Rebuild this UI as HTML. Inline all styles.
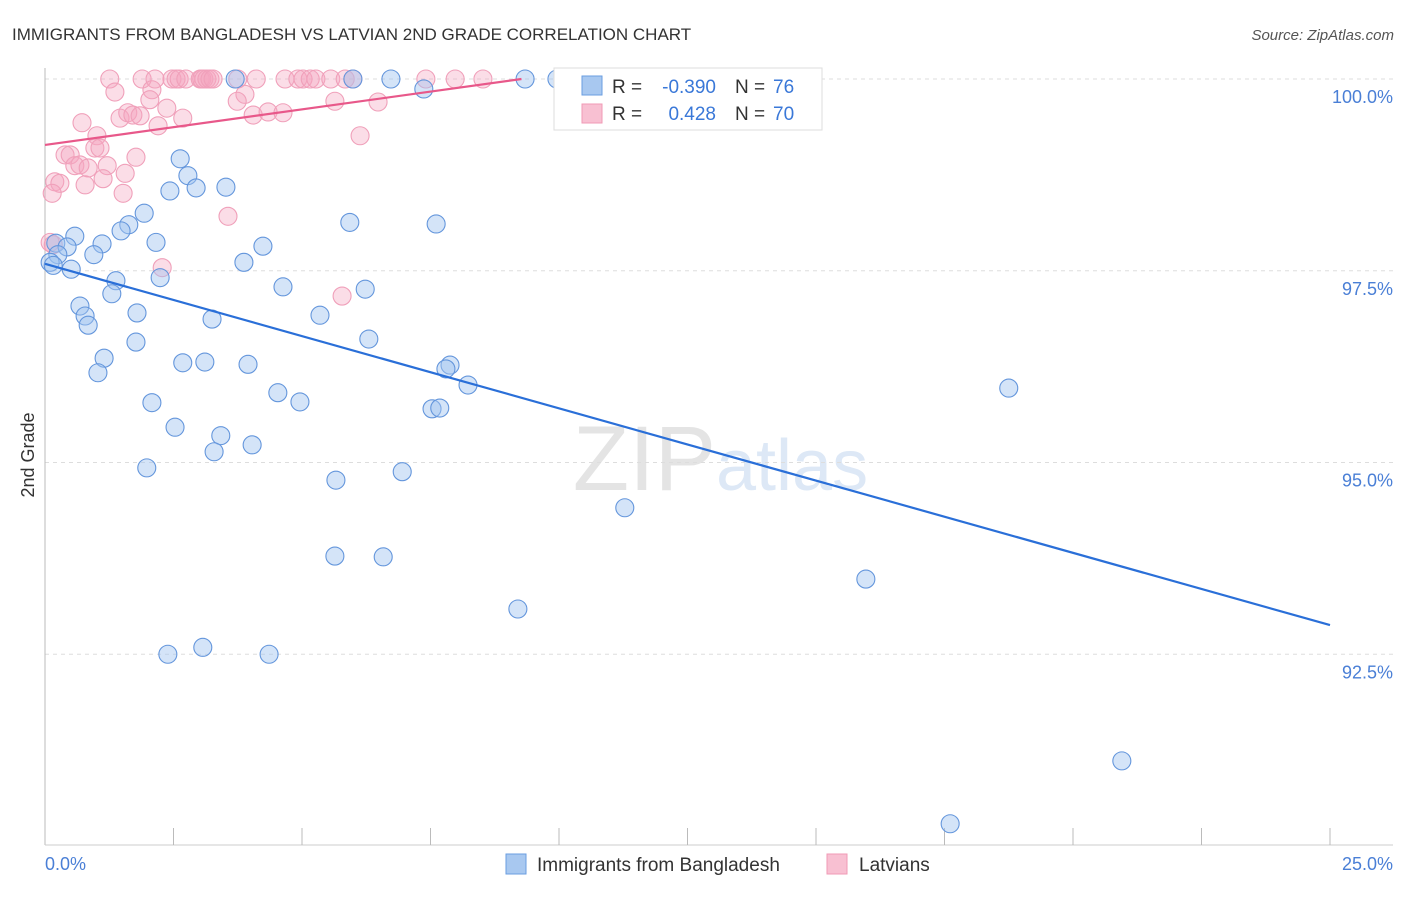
<!DOCTYPE html>
<html><head><meta charset="utf-8"><style>
body{margin:0;background:#fff;font-family:"Liberation Sans",sans-serif}
svg text{font-family:"Liberation Sans",sans-serif}
</style></head><body>
<svg id="chart" width="1406" height="892" viewBox="0 0 1406 892" xmlns="http://www.w3.org/2000/svg">
<text x="12" y="40" font-size="17" fill="#333">IMMIGRANTS FROM BANGLADESH VS LATVIAN 2ND GRADE CORRELATION CHART</text>
<text x="1394" y="40" font-size="15" fill="#555" font-style="italic" text-anchor="end">Source: ZipAtlas.com</text>
<text x="716" y="490" font-size="92" fill="#e4e4e4" text-anchor="end" font-family="Liberation Serif">ZIP</text>
<text x="716" y="490" font-size="72" fill="#dde8f6">atlas</text>
<text transform="translate(34,455) rotate(-90)" font-size="18" fill="#333" text-anchor="middle">2nd Grade</text>
<g id="grid"></g><g id="marks"></g><g id="lines"></g>
<g>
<rect x="554" y="68" width="268" height="62" fill="#fff" stroke="#ddd"/>
<rect x="582" y="76" width="20" height="19" fill="#a8c8f0" stroke="#6a9ee0"/>
<rect x="582" y="104" width="20" height="19" fill="#f8c0d2" stroke="#f09ab5"/>
<text x="612" y="93" font-size="19" fill="#333">R =</text>
<text x="716" y="93" font-size="19" fill="#3a78d8" text-anchor="end">-0.390</text>
<text x="735" y="93" font-size="19" fill="#333">N =</text>
<text x="773" y="93" font-size="19" fill="#3a78d8">76</text>
<text x="612" y="120" font-size="19" fill="#333">R =</text>
<text x="716" y="120" font-size="19" fill="#3a78d8" text-anchor="end">0.428</text>
<text x="735" y="120" font-size="19" fill="#333">N =</text>
<text x="773" y="120" font-size="19" fill="#3a78d8">70</text>
</g>
<g>
<rect x="506" y="854" width="20" height="20" fill="#a8c8f0" stroke="#6a9ee0"/>
<text x="537" y="871" font-size="19" fill="#333">Immigrants from Bangladesh</text>
<rect x="827" y="854" width="20" height="20" fill="#f8c0d2" stroke="#f09ab5"/>
<text x="859" y="871" font-size="19" fill="#333">Latvians</text>
</g>
</svg>
<script>
const blueX=[3.70,5.99,6.73,9.34,9.96,7.37,2.63,2.78,2.94,2.43,3.52,1.93,5.93,7.61,1.63,1.48,0.58,2.16,1.11,4.24,0.21,0.43,0.95,0.25,3.87,0.10,0.16,0.51,2.24,1.38,4.63,6.23,1.30,0.68,1.79,0.78,5.35,3.25,0.84,6.30,1.77,1.15,2.68,3.11,3.95,7.88,7.80,1.03,8.23,18.75,4.53,4.96,2.08,7.53,7.68,3.42,2.53,4.03,3.29,1.98,6.95,5.66,11.28,5.64,6.58,15.97,9.20,2.39,3.07,4.36,20.95,17.61];
const blueY=[100,100,100,100,100,99.87,98.96,98.74,98.58,98.54,98.59,98.25,98.13,98.11,98.10,98.02,97.95,97.87,97.85,97.82,97.86,97.81,97.71,97.71,97.61,97.61,97.57,97.52,97.41,97.37,97.29,97.26,97.20,97.04,96.95,96.91,96.92,96.87,96.79,96.61,96.57,96.36,96.30,96.31,96.28,96.27,96.22,96.17,96.01,95.97,95.91,95.79,95.78,95.70,95.71,95.35,95.46,95.23,95.14,94.93,94.88,94.77,94.41,93.78,93.77,93.48,93.09,92.50,92.59,92.50,91.11,90.29];
const pinkX=[1.26,1.89,2.14,2.47,2.55,2.61,2.74,3.02,3.05,3.09,3.15,3.21,3.27,3.75,4.11,4.67,4.92,5.02,5.16,5.27,5.56,5.84,5.99,7.41,7.98,8.52,10.31,11.03,13.05,13.62,1.36,2.08,2.04,3.89,3.74,5.64,6.48,0.72,1.46,1.61,1.71,1.85,2.37,2.20,2.68,4.05,4.34,4.63,1.01,6.13,0.97,1.07,0.39,0.49,1.77,0.58,0.68,0.84,1.21,1.56,1.13,0.19,0.29,0.78,0.14,1.52,3.56,2.28,5.78,0.10,0.16];
const pinkY=[100,100,100,100,100,100,100,100,100,100,100,100,100,100,100,100,100,100,100,100,100,100,100,100,100,100,100,100,100,100,99.83,99.86,99.73,99.80,99.71,99.71,99.70,99.43,99.49,99.56,99.53,99.52,99.62,99.39,99.49,99.53,99.57,99.56,99.26,99.26,99.10,99.10,99.01,99.01,98.98,98.87,98.88,98.84,98.87,98.77,98.70,98.66,98.64,98.62,98.51,98.51,98.21,97.54,97.17,97.87,97.84];
const blueTrendX=[0,25], blueTrendY=[97.59,92.88];
const pinkTrendX=[0,9.27], pinkTrendY=[99.14,100.0];
const yTicks=[100,97.5,95,92.5];
const yTickLabels=["100.0%","97.5%","95.0%","92.5%"];
const xTickCount=10;
const xLabels=["0.0%","25.0%"];
const NS="http://www.w3.org/2000/svg";
const X0=45,X1=1330,Y100=79,PXPER=76.7;
function sx(v){return X0+(v/25)*(X1-X0);}
function sy(v){return Y100+(100-v)*PXPER;}
function mk(tag,attrs,parent){const e=document.createElementNS(NS,tag);for(const k in attrs)e.setAttribute(k,attrs[k]);parent.appendChild(e);return e;}
const grid=document.getElementById('grid');
yTicks.forEach((t,i)=>{
  const l=mk('line',{x1:45,x2:1393,y1:sy(t),y2:sy(t),stroke:'#ddd','stroke-dasharray':'4,4'},grid);
  
  
  const tx=mk('text',{x:1393,y:sy(t)+24,'font-size':18,fill:'#4a7fd6','text-anchor':'end'},grid);
  tx.textContent=yTickLabels[i];
  
  
});
const ax=mk('line',{x1:45,x2:45,y1:68,y2:845,stroke:'#bbb'},grid);


const bx=mk('line',{x1:45,x2:1393,y1:845,y2:845,stroke:'#ccc'},grid);


for(let i=1;i<=xTickCount;i++){
  const v=25*i/xTickCount;
  const t=mk('line',{x1:sx(v),x2:sx(v),y1:828,y2:845,stroke:'#bbb'},grid);
  
  
}
const xl0=mk('text',{x:45,y:870,'font-size':18,fill:'#4a7fd6'},grid);xl0.textContent=xLabels[0];


const xl1=mk('text',{x:1393,y:870,'font-size':18,fill:'#4a7fd6','text-anchor':'end'},grid);xl1.textContent=xLabels[1];


const marks=document.getElementById('marks');
pinkX.forEach((x,i)=>{
  const c=mk('circle',{cx:sx(x),cy:sy(pinkY[i]),r:9,fill:'rgba(245,165,192,0.38)',stroke:'#f0a0ba','stroke-width':1.1},marks);
  
  
});
blueX.forEach((x,i)=>{
  const c=mk('circle',{cx:sx(x),cy:sy(blueY[i]),r:9,fill:'rgba(160,195,240,0.45)',stroke:'#6496dc','stroke-width':1.1},marks);
  
  
});
const lines=document.getElementById('lines');
const bl=mk('line',{x1:sx(blueTrendX[0]),y1:sy(blueTrendY[0]),x2:sx(blueTrendX[1]),y2:sy(blueTrendY[1]),stroke:'#2a6fd8','stroke-width':2.2},lines);


const pl=mk('line',{x1:sx(pinkTrendX[0]),y1:sy(pinkTrendY[0]),x2:sx(pinkTrendX[1]),y2:sy(pinkTrendY[1]),stroke:'#e8588a','stroke-width':2.2},lines);


</script>
</body></html>
